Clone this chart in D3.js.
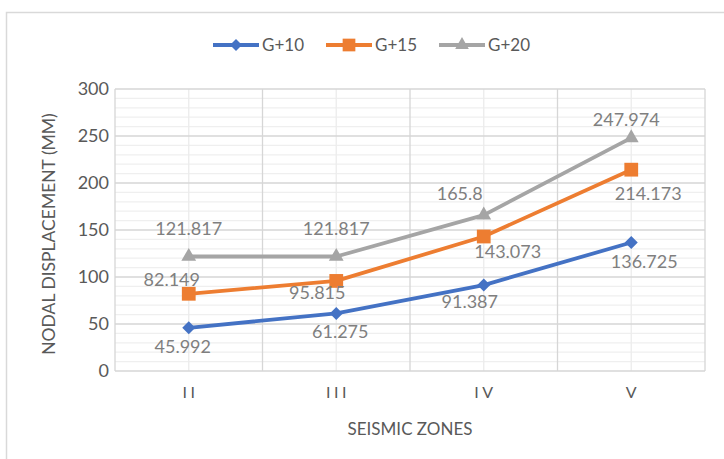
<!DOCTYPE html>
<html><head><meta charset="utf-8">
<script src="https://cdn.jsdelivr.net/npm/d3@7"></script>
<style>body{margin:0;background:#fff;} text{font-family:Lato,"Open Sans",sans-serif;}</style>
</head><body>
<svg id="c" width="724" height="459"></svg>
<script>
const categories = ["II","III","IV","V"];
const seriesNames = ["G+10","G+15","G+20"];
const g10 = [45.992, 61.275, 91.387, 136.725];
const g15 = [82.149, 95.815, 143.073, 214.173];
const g20 = [121.817, 121.817, 165.8, 247.974];
const yTicks = [0,50,100,150,200,250,300];
const colors = ["#4472C4","#ED7D31","#A5A5A5"];
const series = [g10, g15, g20];
// data label nudges [dx, dy(baseline)] relative to each point (layout only)
const labelNudge = [
  [[-6,25],[4,25],[-14,23],[13,26]],
  [[-17,-8],[-19,18],[24,21],[17,30]],
  [[0,-21],[0,-21],[-24,-15],[-5,-12]]
];

const svg = d3.select("#c");
svg.append("rect").attr("x",6.5).attr("y",12.5).attr("width",740).attr("height",460)
  .attr("fill","#fff").attr("stroke","#d9d9d9").attr("stroke-width",1.5);

const L=115, R=705, T=89, B=371;
const x = d3.scaleBand().domain(categories).range([L,R]);
const y = d3.scaleLinear().domain([0,300]).range([B,T]);
const cxOf = c => x(c)+x.bandwidth()/2;

const grid = svg.append("g");
d3.range(0,301,10).forEach(v=>{
  if(v%50!==0) grid.append("line").attr("x1",L).attr("x2",R).attr("y1",y(v)).attr("y2",y(v))
    .attr("stroke","#efefef").attr("stroke-width",1.2);
});
categories.forEach(c=>{
  grid.append("line").attr("x1",cxOf(c)).attr("x2",cxOf(c)).attr("y1",T).attr("y2",B).attr("stroke","#ececec").attr("stroke-width",1.3);
});
categories.forEach(c=>{
  grid.append("line").attr("x1",x(c)).attr("x2",x(c)).attr("y1",T).attr("y2",B).attr("stroke","#d6d6d6").attr("stroke-width",1.3);
});
grid.append("line").attr("x1",R).attr("x2",R).attr("y1",T).attr("y2",B).attr("stroke","#d6d6d6").attr("stroke-width",1.3);
yTicks.forEach(v=>{
  grid.append("line").attr("x1",L).attr("x2",R).attr("y1",y(v)).attr("y2",y(v))
    .attr("stroke","#d6d6d6").attr("stroke-width",1.3);
});

const yAxis = svg.append("g").attr("transform",`translate(${L},0)`)
  .call(d3.axisLeft(y).tickValues(yTicks).tickSize(0).tickPadding(6));
yAxis.select(".domain").remove();
yAxis.selectAll("text").attr("fill","#595959").style("font-size","18px");

const xAxis = svg.append("g").attr("transform",`translate(0,${B})`)
  .call(d3.axisBottom(x).tickSize(0).tickPadding(16));
xAxis.select(".domain").remove();
xAxis.selectAll("text").attr("fill","#595959").style("font-size","16px").style("letter-spacing","3.5px")
  .attr("dx","1.75px");

svg.append("text").attr("transform",`translate(55,${(T+B)/2+4}) rotate(-90)`).attr("text-anchor","middle")
  .attr("fill","#595959").style("font-size","17.5px").text("NODAL DISPLACEMENT (MM)");
svg.append("text").attr("x",(L+R)/2).attr("y",435).attr("text-anchor","middle")
  .attr("fill","#595959").style("font-size","17px").text("SEISMIC ZONES");

const line = d3.line().x((d,i)=>cxOf(categories[i])).y(d=>y(d));
const markers = [
  {type:d3.symbolSquare, size:85, rot:45},
  {type:d3.symbolSquare, size:190, rot:0},
  {type:d3.symbolTriangle, size:95, rot:0}
];
series.forEach((s,si)=>{
  svg.append("path").datum(s).attr("d",line).attr("fill","none").attr("stroke",colors[si]).attr("stroke-width",3.8)
    .attr("stroke-linejoin","round");
  s.forEach((v,i)=>{
    const m = markers[si];
    svg.append("path").attr("d",d3.symbol().type(m.type).size(m.size)())
      .attr("transform",`translate(${cxOf(categories[i])},${y(v)}) rotate(${m.rot})`).attr("fill",colors[si]);
  });
});
series.forEach((s,si)=>{
  s.forEach((v,i)=>{
    const [dx,dy] = labelNudge[si][i];
    svg.append("text").attr("x",cxOf(categories[i])+dx).attr("y",y(v)+dy).attr("text-anchor","middle")
      .attr("fill","#7f7f7f").style("font-size","18px").text(String(v));
  });
});

const lx = [213, 326, 439];
seriesNames.forEach((n,i)=>{
  const g = svg.append("g").attr("transform",`translate(${lx[i]},45)`);
  g.append("line").attr("x1",0).attr("x2",46).attr("y1",0).attr("y2",0).attr("stroke",colors[i]).attr("stroke-width",3.8);
  const m = markers[i];
  g.append("path").attr("d",d3.symbol().type(m.type).size(m.size*0.85)()).attr("transform",`translate(23,0) rotate(${m.rot})`).attr("fill",colors[i]);
  g.append("text").attr("x",49).attr("y",6).attr("fill","#595959").style("font-size","17px").text(n);
});
</script>
</body></html>
